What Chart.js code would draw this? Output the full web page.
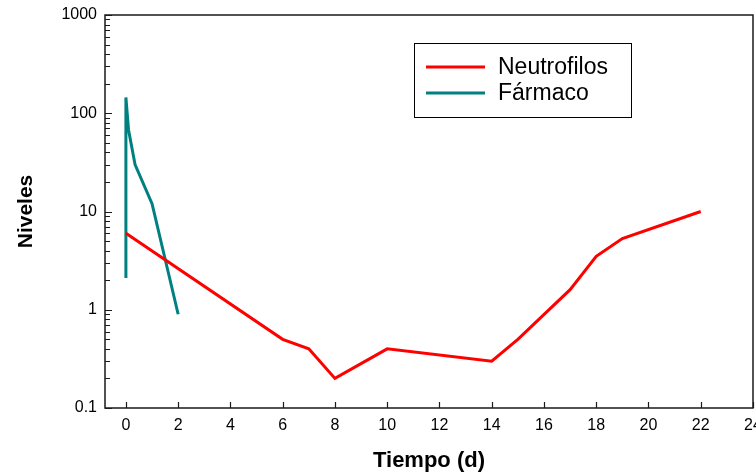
<!DOCTYPE html>
<html>
<head>
<meta charset="utf-8">
<script src="https://cdn.jsdelivr.net/npm/chart.js@4/dist/chart.umd.min.js"></script>
<style>
  html, body { margin: 0; padding: 0; background: #fff; }
  #contenedor { width: 756px; height: 474px; }
</style>
</head>
<body>
<div id="contenedor"><canvas id="graficoNiveles"></canvas></div>
<script>
// Tiempo en días y niveles de cada serie
var tiempoNeutrofilos = [0, 6, 7, 8, 10, 14, 15, 17, 18, 19, 22];
var nivelesNeutrofilos = [6, 0.5, 0.4, 0.2, 0.4, 0.3, 0.5, 1.6, 3.5, 5.3, 10];

var tiempoFarmaco = [0, 0, 0.1, 0.35, 1, 2];
var nivelesFarmaco = [2.1, 145, 68, 30, 12, 0.9];

var marcasX = [0, 2, 4, 6, 8, 10, 12, 14, 16, 18, 20, 22, 24];
var marcasY = [0.1, 1, 10, 100, 1000];

var COLOR_EJE = '#1a1a1a';
var FUENTE = "'Liberation Sans', Arial, sans-serif";

function puntos(xs, ys) {
    return xs.map(function (x, i) {
        return { x: x, y: ys[i] };
    });
}

// décadas con sus subdivisiones 2..9 para las marcas menores
function marcasLogaritmicas() {
    var lista = [];
    marcasY.forEach(function (base, i) {
        if (i === marcasY.length - 1) {
            lista.push(base);
            return;
        }
        for (var m = 1; m <= 9; m++) {
            lista.push(m === 1 ? base : base * m);
        }
    });
    return lista;
}

// marcas hacia dentro, marco completo y leyenda con recuadro
var decoracion = {
    id: 'decoracion',
    afterDraw: function (chart) {
        var ctx = chart.ctx;
        var area = chart.chartArea;
        var ex = chart.scales.x;
        var ey = chart.scales.y;

        ctx.save();
        ctx.strokeStyle = COLOR_EJE;
        ctx.lineWidth = 1.5;
        ctx.strokeRect(area.left, area.top, area.right - area.left, area.bottom - area.top);

        ctx.lineWidth = 1.2;
        ctx.beginPath();
        ex.ticks.forEach(function (t) {
            var px = Math.round(ex.getPixelForValue(t.value)) + 0.5;
            ctx.moveTo(px, area.bottom);
            ctx.lineTo(px, area.bottom - 6);
        });
        ey.ticks.forEach(function (t) {
            var py = Math.round(ey.getPixelForValue(t.value)) + 0.5;
            var largo = marcasY.indexOf(t.value) >= 0 ? 7 : 5;
            ctx.moveTo(area.left, py);
            ctx.lineTo(area.left + largo, py);
        });
        ctx.stroke();

        // leyenda
        var caja = { x: 414, y: 43, w: 217, h: 74 };
        ctx.lineWidth = 1;
        ctx.strokeStyle = '#000';
        ctx.strokeRect(caja.x + 0.5, caja.y + 0.5, caja.w, caja.h);
        ctx.font = '23px ' + FUENTE;
        ctx.textBaseline = 'middle';
        ctx.fillStyle = '#000';
        chart.data.datasets.forEach(function (ds, i) {
            var y = caja.y + 24 + i * 26;
            ctx.strokeStyle = ds.borderColor;
            ctx.lineWidth = 3;
            ctx.beginPath();
            ctx.moveTo(caja.x + 12, y);
            ctx.lineTo(caja.x + 71, y);
            ctx.stroke();
            ctx.fillText(ds.label, caja.x + 84, y + 1);
        });
        ctx.restore();
    }
};

var grafico = new Chart(document.getElementById('graficoNiveles').getContext('2d'), {
    type: 'line',
    data: {
        datasets: [{
            label: 'Neutrofilos',
            data: puntos(tiempoNeutrofilos, nivelesNeutrofilos),
            borderColor: '#ff0000',
            borderWidth: 3,
            pointRadius: 0,
            tension: 0,
            fill: false,
        },
        {
            label: 'Fármaco',
            data: puntos(tiempoFarmaco, nivelesFarmaco),
            borderColor: '#008080',
            borderWidth: 3,
            pointRadius: 0,
            tension: 0,
            fill: false,
        }],
    },
    options: {
        responsive: true,
        maintainAspectRatio: false,
        animation: false,
        layout: { padding: { top: 15, right: 3, left: 0, bottom: 0 } },
        plugins: {
            legend: { display: false },
            tooltip: { enabled: false },
        },
        scales: {
            x: {
                type: 'linear',
                min: -0.8,
                max: 24,
                grid: { display: false, drawTicks: false },
                border: { display: false },
                afterBuildTicks: function (scale) {
                    scale.ticks = marcasX.map(function (v) { return { value: v }; });
                },
                afterFit: function (scale) {
                    scale.height = 66;
                    scale.paddingLeft = 0;
                    scale.paddingRight = 0;
                },
                ticks: {
                    autoSkip: false,
                    maxRotation: 0,
                    padding: 8,
                    color: '#000',
                    font: { family: FUENTE, size: 16 },
                },
                title: {
                    display: true,
                    text: 'Tiempo (d)',
                    color: '#000',
                    padding: { top: 0, bottom: 0 },
                    font: { family: FUENTE, size: 22, weight: 'bold' },
                },
            },
            y: {
                type: 'logarithmic',
                min: 0.1,
                max: 1000,
                grid: { display: false, drawTicks: false },
                border: { display: false },
                afterBuildTicks: function (scale) {
                    scale.ticks = marcasLogaritmicas().map(function (v) { return { value: v }; });
                },
                afterFit: function (scale) {
                    scale.width = 105;
                    scale.paddingTop = 0;
                    scale.paddingBottom = 0;
                },
                ticks: {
                    autoSkip: false,
                    padding: 8,
                    color: '#000',
                    font: { family: FUENTE, size: 16 },
                    callback: function (valor) {
                        return marcasY.indexOf(valor) >= 0 ? String(valor) : '';
                    },
                },
                title: {
                    display: true,
                    text: 'Niveles',
                    color: '#000',
                    padding: { top: 14, bottom: 0 },
                    font: { family: FUENTE, size: 21, weight: 'bold' },
                },
            },
        },
    },
    plugins: [decoracion],
});
</script>
</body>
</html>
